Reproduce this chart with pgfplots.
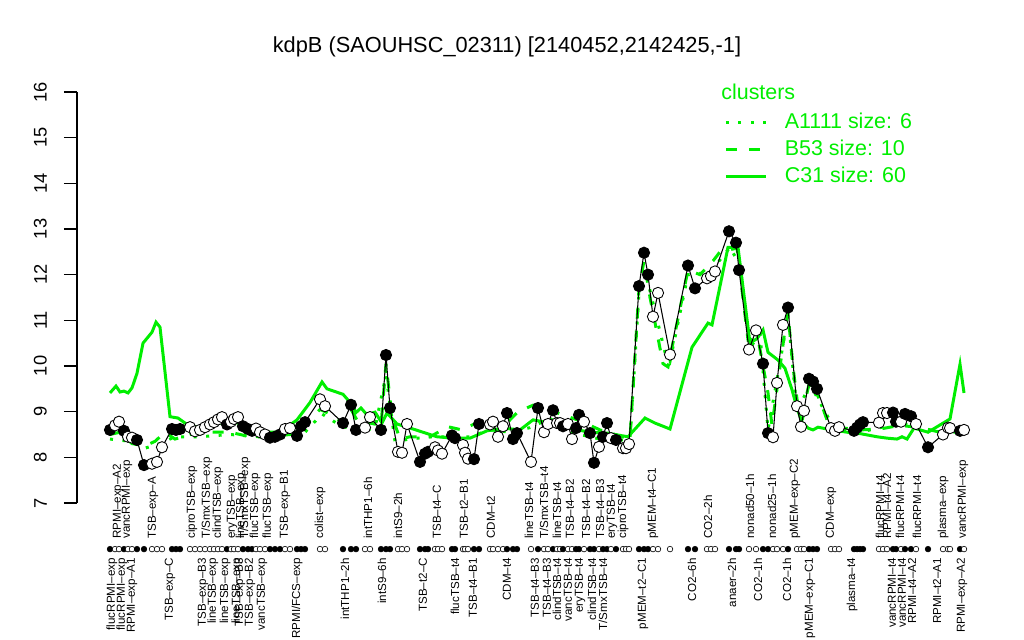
\documentclass[border=0pt]{standalone}
\usepackage{fontspec}
\setmainfont{Liberation Sans}
\usepackage{pgfplots}
\usepackage{pgfplotstable}
\pgfplotsset{compat=1.18}
\definecolor{grn}{RGB}{0,238,0}

% gene profile: x position (px of the R device), value, fill (b/w)
\pgfplotstableread{
x y c
110 8.60 b
115 8.70 w
119 8.78 w
124 8.58 b
128 8.45 w
132 8.43 w
137 8.38 b
144 7.83 b
152 7.86 w
157 7.90 w
162 8.22 w
172 8.62 b
176 8.60 b
180 8.62 b
190 8.66 w
195 8.57 w
200 8.60 w
205 8.66 w
210 8.72 w
214 8.77 w
218 8.83 w
222 8.88 w
227 8.72 b
231 8.78 w
234 8.84 w
238 8.88 w
243 8.68 b
248 8.62 b
252 8.58 b
256 8.63 w
260 8.55 w
265 8.50 w
270 8.43 b
275 8.45 b
280 8.50 b
285 8.62 w
290 8.64 w
297 8.47 b
301 8.68 b
305 8.77 b
320 9.27 w
325 9.12 w
343 8.75 b
351 9.15 b
356 8.60 b
365 8.65 w
370 8.88 w
381 8.60 b
386 10.24 b
390 9.08 b
398 8.12 w
402 8.10 w
407 8.73 w
420 7.90 b
425 8.08 b
428 8.12 b
435 8.22 w
438 8.15 w
442 8.08 w
452 8.48 b
455 8.42 b
463 8.27 w
465 8.10 w
468 7.97 w
474 7.96 b
479 8.73 b
490 8.72 w
493 8.78 w
498 8.45 w
503 8.68 w
507 8.97 b
513 8.40 b
517 8.53 b
531 7.90 w
538 9.08 b
544 8.55 w
548 8.73 w
553 9.03 b
557 8.75 w
560 8.75 w
563 8.68 b
568 8.73 w
572 8.40 w
576 8.64 b
579 8.93 b
584 8.78 w
590 8.53 b
594 7.88 b
599 8.23 w
603 8.45 b
607 8.75 b
611 8.42 w
616 8.38 b
623 8.20 w
626 8.20 w
629 8.29 w
639 11.75 b
644 12.48 b
648 12.00 b
653 11.08 w
658 11.60 w
670 10.25 w
688 12.20 b
695 11.70 b
707 11.92 w
711 11.97 w
715 12.07 w
729 12.95 b
736 12.70 b
739 12.10 b
749 10.36 w
756 10.78 w
763 10.05 b
768 8.53 b
773 8.44 w
777 9.63 w
783 10.90 w
788 11.28 b
797 9.12 w
801 8.67 w
804 9.02 w
809 9.72 b
813 9.66 b
817 9.50 b
831 8.64 w
835 8.58 w
839 8.66 w
854 8.58 b
857 8.65 b
860 8.72 b
863 8.77 b
879 8.76 w
883 8.97 w
887 8.97 w
893 8.98 b
896 8.78 b
901 8.78 w
905 8.95 b
911 8.90 b
916 8.73 w
928 8.22 b
943 8.50 w
948 8.65 w
950 8.64 w
960 8.58 b
964 8.60 w
}\gene

\pgfplotstableread{
x y
110 8.40
130 8.35
145 8.20
160 8.30
175 8.45
200 8.45
230 8.50
260 8.45
290 8.45
305 8.55
322 8.95
340 8.70
360 8.55
375 8.65
386 9.80
395 8.35
410 8.40
430 8.45
450 8.45
470 8.45
490 8.60
510 8.55
530 8.65
550 8.85
570 8.55
590 8.45
610 8.35
630 8.40
639 11.60
645 12.10
655 11.20
665 10.30
670 10.10
688 12.00
710 12.05
730 12.60
740 12.20
750 10.40
760 10.70
768 8.60
777 9.70
788 11.10
797 9.00
810 9.60
820 9.20
835 8.60
860 8.55
880 8.65
900 8.75
920 8.65
940 8.55
964 8.55
}\clA

\pgfplotstableread{
x y
110 8.50
120 8.55
132 8.30
145 8.25
155 8.35
165 8.55
175 8.40
190 8.50
210 8.55
230 8.55
250 8.45
270 8.45
290 8.50
305 8.70
320 9.05
330 8.95
343 8.75
351 9.05
360 8.70
370 8.75
381 8.70
386 10.05
392 8.90
400 8.40
410 8.45
430 8.45
448 8.67
462 8.60
478 8.77
498 8.55
518 9.00
533 9.14
558 8.97
580 8.80
600 8.60
615 8.50
630 8.40
639 11.70
644 12.30
650 11.50
655 10.95
663 10.05
668 9.98
688 12.10
700 12.00
713 12.30
720 12.50
737 12.58
748 10.57
758 10.60
768 9.41
772 8.70
777 9.50
785 10.79
788 11.15
793 9.98
798 9.10
803 8.90
807 9.41
810 9.69
820 9.25
827 8.82
840 8.65
860 8.60
880 8.62
900 8.70
920 8.65
940 8.55
964 8.60
}\clB

\pgfplotstableread{
x y
110 9.41
116 9.56
120 9.43
124 9.45
128 9.41
132 9.52
137 9.84
143 10.50
152 10.74
156 10.96
160 10.85
170 8.89
178 8.86
187 8.72
200 8.65
215 8.72
230 8.80
245 8.70
260 8.55
280 8.55
297 8.82
310 9.20
322 9.65
327 9.50
343 9.38
351 9.18
356 8.98
361 9.08
367 8.93
375 8.99
382 8.75
387 8.97
397 8.73
413 8.62
437 8.45
453 8.42
470 8.42
487 8.58
503 8.64
520 8.60
533 8.82
550 8.75
573 8.62
590 8.55
607 8.53
628 8.45
645 8.86
655 8.75
670 8.62
692 10.41
708 10.94
712 10.90
728 12.60
738 12.60
750 10.50
757 10.60
763 10.79
768 10.30
778 10.13
785 9.95
792 9.48
797 9.08
802 8.77
808 8.64
813 8.60
818 8.66
827 8.62
847 8.55
860 8.52
877 8.45
887 8.42
897 8.40
902 8.45
907 8.40
914 8.64
928 8.55
950 8.84
960 10.04
964 9.41
}\clC

\tikzset{lab/.style={font=\fontsize{6.6}{7}\selectfont, rotate=90, inner sep=0pt}}
\newcommand\bl[2]{\node[lab,anchor=east] at (axis cs:#1,5.80) {#2};}
\newcommand\tl[2]{\node[lab,anchor=west] at (axis cs:#1,6.21) {#2};}

\begin{document}
\begin{tikzpicture}
\path[use as bounding box] (0,0) rectangle (20.48cm,12.8cm);
\begin{axis}[
    at={(1.54cm,2.74cm)}, anchor=south west,
    scale only axis, width=18.42cm, height=8.22cm,
    xmin=77, xmax=998, ymin=7, ymax=16,
    axis x line=none, axis y line=left,
    axis line style={-, line width=0.6pt},
    ytick={7,8,...,16},
    tick align=outside, major tick length=0.26cm,
    tick style={line width=0.6pt, black},
    yticklabel style={xshift=-0.22cm, rotate=90, anchor=south, font=\fontsize{10.4}{12}\selectfont},
    /pgf/number format/assume math mode=true,
    clip=false,
    legend style={at={(axis cs:724,15.62)}, anchor=north west, draw=none, fill=none,
        inner sep=0pt, row sep=1pt, column sep=0.28cm,
        nodes={text=grn, font=\fontsize{12.2}{14}\selectfont}},
    legend cell align=left,
    legend image code/.code={\draw[#1] (0cm,0cm) -- (0.8cm,0cm);},
]
\addplot[grn, line width=1.7pt, dash pattern=on 0.06cm off 0.19cm] table[x=x,y=y] {\clA};
\addlegendentry{A1111 size: 6}
\addplot[grn, line width=1.7pt, dash pattern=on 0.22cm off 0.24cm] table[x=x,y=y] {\clB};
\addlegendentry{B53 size: 10}
\addplot[grn, line width=1.7pt] table[x=x,y=y] {\clC};
\addlegendentry{C31 size: 60}

\addplot[black, line width=0.6pt, forget plot] table[x=x,y=y] {\gene};
\addplot[scatter, only marks, forget plot, scatter src=explicit symbolic,
    mark size=3.2pt, line width=0.5pt,
    scatter/classes={b={mark=*,draw=black,fill=black}, w={mark=*,draw=black,fill=white}}]
    table[x=x,y=y,meta=c] {\gene};
\addplot[scatter, only marks, forget plot, scatter src=explicit symbolic,
    mark size=1.6pt, line width=0.35pt,
    scatter/classes={b={mark=*,draw=black,fill=black}, w={mark=*,draw=black,fill=white}}]
    table[x=x,y expr=5.99,meta=c] {\gene};

\node[font=\fontsize{12.4}{14}\selectfont] at (axis cs:507,16.98) {kdpB (SAOUHSC\_02311) [2140452,2142425,-1]};
\node[anchor=west, inner sep=0pt, text=grn, font=\fontsize{12.2}{14}\selectfont] at (axis cs:721,16.0) {clusters};

% labels above the dot row
\tl{118}{RPMI–exp–A2}
\tl{127}{vancRPMI–exp}
\tl{153}{TSB–exp–A}
\tl{192}{ciproTSB–exp}
\tl{207}{T/SmxTSB–exp}
\tl{218}{clindTSB–exp}
\tl{232}{eryTSB–exp}
\tl{241}{lineTSB–exp}
\tl{245}{T/SmxTSB–exp}
\tl{255}{flucTSB–exp}
\tl{268}{flucTSB–exp}
\tl{285}{TSB–exp–B1}
\tl{320}{colist–exp}
\tl{368}{intTHP1–6h}
\tl{398}{intS9–2h}
\tl{437}{TSB–t4–C}
\tl{464}{TSB–t2–B1}
\tl{491}{CDM–t2}
\tl{529}{lineTSB–t4}
\tl{544}{T/SmxTSB–t4}
\tl{557}{lineTSB–t4}
\tl{570}{TSB–t4–B2}
\tl{586}{TSB–t4–B2}
\tl{600}{TSB–t4–B3}
\tl{612}{eryTSB–t4}
\tl{623}{ciproTSB–t4}
\tl{653}{pMEM–t4–C1}
\tl{708}{CO2–2h}
\tl{750}{nonad50–1h}
\tl{772}{nonad25–1h}
\tl{795}{pMEM–exp–C2}
\tl{831}{CDM–exp}
\tl{880}{flucRPMI–t4}
\tl{887}{RPMI–t4–A2}
\tl{900}{flucRPMI–t4}
\tl{917}{flucRPMI–t4}
\tl{943}{plasma–exp}
\tl{963}{vancRPMI–exp}

% labels below the dot row
\bl{112}{flucRPMI–exp}
\bl{122}{flucRPMI–exp}
\bl{132}{RPMI–exp–A1}
\bl{170}{TSB–exp–C}
\bl{203}{TSB–exp–B3}
\bl{213}{lineTSB–exp}
\bl{225}{lineTSB–exp}
\bl{237}{lineTSB–exp}
\bl{240}{TSB–exp–B3}
\bl{250}{TSB–exp–B2}
\bl{262}{vancTSB–exp}
\bl{297}{RPMI/FCS–exp}
\bl{345}{intTHP1–2h}
\bl{382}{intS9–6h}
\bl{423}{TSB–t2–C}
\bl{455}{flucTSB–t4}
\bl{473}{TSB–t4–B1}
\bl{507}{CDM–t4}
\bl{535}{TSB–t4–B3}
\bl{547}{TSB–t4–B3}
\bl{557}{clindTSB–t4}
\bl{568}{vancTSB–t4}
\bl{580}{eryTSB–t4}
\bl{592}{clindTSB–t4}
\bl{603}{T/SmxTSB–t4}
\bl{643}{pMEM–t2–C1}
\bl{692}{CO2–6h}
\bl{732}{anaer–2h}
\bl{758}{CO2–1h}
\bl{787}{CO2–1h}
\bl{810}{pMEM–exp–C1}
\bl{852}{plasma–t4}
\bl{892}{vancRPMI–t4}
\bl{902}{vancRPMI–t4}
\bl{912}{RPMI–t4–A2}
\bl{937}{RPMI–t2–A1}
\bl{962}{RPMI–exp–A2}
\end{axis}
\end{tikzpicture}
\end{document}
